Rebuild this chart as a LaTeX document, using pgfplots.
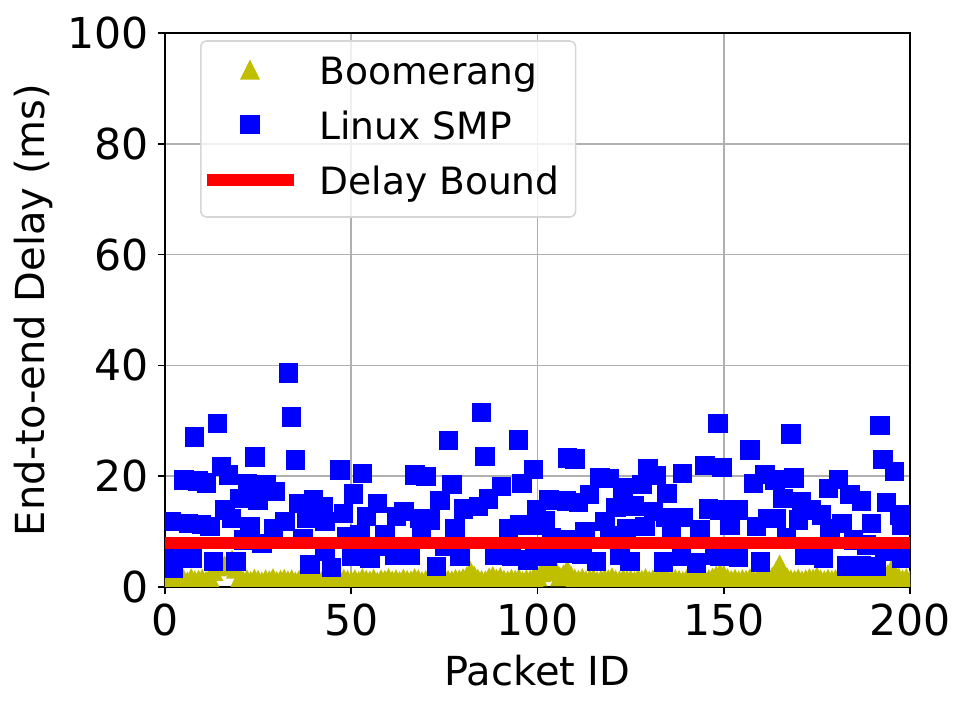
\documentclass[border=0pt]{standalone}
\usepackage{pgfplots}
\pgfplotsset{compat=1.18}
\usepackage{fontspec}
\setmainfont{DejaVu Sans}
\definecolor{mplyellow}{rgb}{0.75,0.75,0}
\definecolor{gridgray}{HTML}{B0B0B0}
\definecolor{legedge}{HTML}{D6D6D6}
\pgfdeclareplotmark{mpltri}{%
  \pgfpathmoveto{\pgfqpoint{0pt}{\pgfplotmarksize}}%
  \pgfpathlineto{\pgfqpoint{-\pgfplotmarksize}{-\pgfplotmarksize}}%
  \pgfpathlineto{\pgfqpoint{\pgfplotmarksize}{-\pgfplotmarksize}}%
  \pgfpathclose
  \pgfusepathqfill}

\pgfplotstableread{
x y
1 1.3
2 1.1
3 1.5
4 1.2
5 1.4
6 1.0
7 1.6
8 1.2
9 1.3
10 1.5
11 1.1
12 1.7
13 2.9
14 3.7
15 4.1
16 3.9
17 4.3
18 4.9
19 3.3
20 1.5
21 1.2
22 1.4
23 1.1
24 1.5
25 1.3
26 1.0
27 1.4
28 1.2
29 1.6
30 1.1
31 1.3
32 1.5
33 1.2
34 1.4
35 1.0
36 1.3
37 1.6
38 1.1
39 1.4
40 1.2
41 1.5
42 1.1
43 1.3
44 1.6
45 1.2
46 1.4
47 1.1
48 1.5
49 1.3
50 1.2
51 1.4
52 1.1
53 1.6
54 1.3
55 1.2
56 1.5
57 1.0
58 1.4
59 1.3
60 1.6
61 1.2
62 1.4
63 1.1
64 1.5
65 1.3
66 1.2
67 1.6
68 1.4
69 1.1
70 1.3
71 1.5
72 1.2
73 1.4
74 1.1
75 1.6
76 1.3
77 1.2
78 1.5
79 1.4
80 1.6
81 1.9
82 2.9
83 2.1
84 1.5
85 1.3
86 1.2
87 1.7
88 2.0
89 1.5
90 1.8
91 1.3
92 1.2
93 1.5
94 1.3
95 1.6
96 1.1
97 1.4
98 1.3
99 1.7
100 1.9
101 2.7
102 3.3
103 4.4
104 3.5
105 2.8
106 1.9
107 2.3
108 3.1
109 2.1
110 1.5
111 1.3
112 1.6
113 1.2
114 1.4
115 1.5
116 1.1
117 1.3
118 1.6
119 1.4
120 1.8
121 1.3
122 1.2
123 1.5
124 1.3
125 1.4
126 1.1
127 1.5
128 1.3
129 1.6
130 1.2
131 1.4
132 1.3
133 1.5
134 1.7
135 1.4
136 1.2
137 1.5
138 1.3
139 1.1
140 1.4
141 1.6
142 1.3
143 1.2
144 1.5
145 1.3
146 1.4
147 1.7
148 2.1
149 2.5
150 2.2
151 1.6
152 1.3
153 1.5
154 1.2
155 1.4
156 1.3
157 1.6
158 1.2
159 1.4
160 1.5
161 1.3
162 1.6
163 1.9
164 2.8
165 4.1
166 2.7
167 1.8
168 1.4
169 1.3
170 1.5
171 1.2
172 1.4
173 1.6
174 1.5
175 1.9
176 1.4
177 1.2
178 1.5
179 1.3
180 1.4
181 1.1
182 1.5
183 1.3
184 1.6
185 1.2
186 1.4
187 1.3
188 1.5
189 1.2
190 1.4
191 1.3
192 1.6
193 1.8
194 2.3
195 3.2
196 2.3
197 1.7
198 1.4
199 1.6
200 1.3
}\boomerang

\pgfplotstableread{
x y
1.8 11.8
2.2 3.4
2.7 5.2
5.1 19.3
6.3 11.5
7.2 5.2
8.0 27.1
8.9 19.1
9.8 11.3
11.2 18.8
12.1 10.9
13.0 4.6
14.1 29.5
15.2 21.7
16.1 13.9
17.0 20.2
17.9 12.4
19.1 4.6
20.1 16.0
21.0 8.5
22.1 18.7
22.8 10.9
24.2 23.5
25.0 15.7
26.0 7.9
27.1 18.4
29.1 10.6
29.5 17.2
32.2 11.8
33.1 38.6
34.0 30.7
35.1 22.9
35.8 15.1
37.1 8.8
38.0 12.4
38.5 13.6
38.9 4.1
39.8 15.7
42.5 14.5
43.0 11.8
43.0 6.4
44.7 3.5
47.0 21.1
47.9 13.3
48.8 9.1
50.1 5.5
50.6 16.8
52.3 9.4
53.0 20.5
54.1 12.7
55.0 5.2
57.1 15.1
59.1 9.4
60.0 7.3
61.7 5.8
62.2 12.7
64.2 13.6
65.8 5.8
67.1 20.2
68.5 12.4
68.9 9.1
70.1 19.9
71.1 12.1
72.9 3.7
73.8 15.6
75.2 7.3
76.1 26.4
77.0 18.5
77.9 10.6
79.2 5.5
80.1 14.1
84.1 14.5
85.0 31.5
85.9 23.6
86.8 15.9
88.6 5.8
90.4 18.1
92.2 10.6
93.0 5.5
94.9 26.5
95.3 11.2
95.8 18.7
97.5 4.9
98.9 21.2
98.9 11.2
99.8 13.9
99.3 5.5
102.0 11.9
102.5 5.5
103.1 15.7
103.8 8.9
107.0 6.1
107.4 8.6
107.8 15.5
108.0 23.3
110.1 23.1
111.0 15.2
111.9 5.9
112.8 10.0
113.9 16.7
115.9 4.6
116.8 19.7
118.1 11.8
119.3 19.6
119.5 9.2
121.1 14.3
122.1 5.8
122.9 17.9
123.9 10.6
124.8 4.6
125.9 14.6
128.0 18.5
128.9 10.9
129.7 21.4
131.1 13.6
132.0 20.1
133.8 4.5
134.5 12.5
134.8 16.9
136.0 9.7
138.7 5.5
139.0 20.5
139.1 12.5
142.7 4.3
143.6 10.3
145.0 21.9
145.9 14.1
147.7 5.8
148.5 29.5
149.5 21.6
149.0 13.9
149.0 5.5
151.7 11.1
153.9 13.9
153.9 5.3
157.0 24.7
158.0 18.7
158.8 10.9
159.9 4.5
161.1 20.3
161.9 12.4
163.8 19.3
164.2 12.4
165.9 16.0
166.9 8.9
168.0 27.6
168.9 19.7
170.0 12.1
170.9 15.4
171.8 5.8
173.6 13.9
174.5 6.8
176.3 13.0
176.7 5.2
178.1 17.8
178.5 10.6
180.8 19.4
181.7 11.5
183.0 3.8
183.9 16.7
184.8 8.5
187.0 15.5
187.0 3.8
188.4 7.6
189.7 11.5
191.0 3.7
191.9 29.1
192.8 23.0
193.3 6.4
193.7 15.2
195.0 7.3
195.8 20.8
197.3 13.0
197.8 11.2
197.8 5.1
}\linuxsmp

\begin{document}
\begin{tikzpicture}
\begin{axis}[
  scale only axis,
  width=372.5pt, height=277pt,
  xmin=0, xmax=200, ymin=0, ymax=100,
  xtick={0,50,100,150,200},
  ytick={0,20,40,60,80,100},
  tick pos=left,
  tick align=outside,
  major tick length=3.5pt,
  tick style={black, line width=0.8pt},
  axis line style={line width=0.8pt},
  grid=major,
  major grid style={gridgray, line width=0.8pt},
  /pgf/number format/assume math mode=true,
  ticklabel style={font=\fontsize{21.3}{25}\selectfont, inner sep=0pt},
  xticklabel style={yshift=-4.5pt},
  yticklabel style={xshift=-4.5pt},
  every axis x label/.style={at={(axis description cs:0.5,-0.150)}, anchor=center},
  every axis y label/.style={at={(axis description cs:-0.176,0.5)}, rotate=90, anchor=center},
  label style={font=\fontsize{20}{24}\selectfont},
  xlabel={Packet ID},
  ylabel={End-to-end Delay (ms)},
  clip marker paths=true,
  legend cell align=left,
  legend image code/.code={%
    \draw[overlay, sharp corners, fill opacity=1, draw opacity=1, mark repeat=2, mark phase=2, yshift=2.2pt, xshift=-6.15pt, #1]
      plot coordinates {(0pt,0pt) (21.75pt,0pt) (43.5pt,0pt)};
    \path (0pt,0pt) (45.35pt,0pt);
  },
  legend style={
    at={(axis description cs:0.047,0.987)}, anchor=north west,
    draw=legedge, line width=0.8pt, fill=white, fill opacity=0.8,
    text opacity=1, rounded corners=3pt,
    font=\fontsize{18.8}{22}\selectfont,
    inner xsep=6pt, inner ysep=7pt, row sep=8.5pt,
    nodes={inner xsep=2pt, inner ysep=0pt, text height=15pt, text depth=4pt},
  },
]
\addplot[only marks, mark=mpltri, mark size=5pt, color=mplyellow] table[x=x,y=y] {\boomerang};
\addlegendentry{Boomerang}
\addplot[only marks, mark=square*, mark size=4.6pt, color=blue, mark options={line width=0.5pt}] table[x=x,y=y] {\linuxsmp};
\addlegendentry{Linux SMP}
\addplot[red, line width=6pt] coordinates {(0,8) (200,8)};
\addlegendentry{Delay Bound}
\end{axis}
\path[use as bounding box] (-82.5pt,-61.5pt) rectangle (402pt,293.5pt);
\end{tikzpicture}
\end{document}
